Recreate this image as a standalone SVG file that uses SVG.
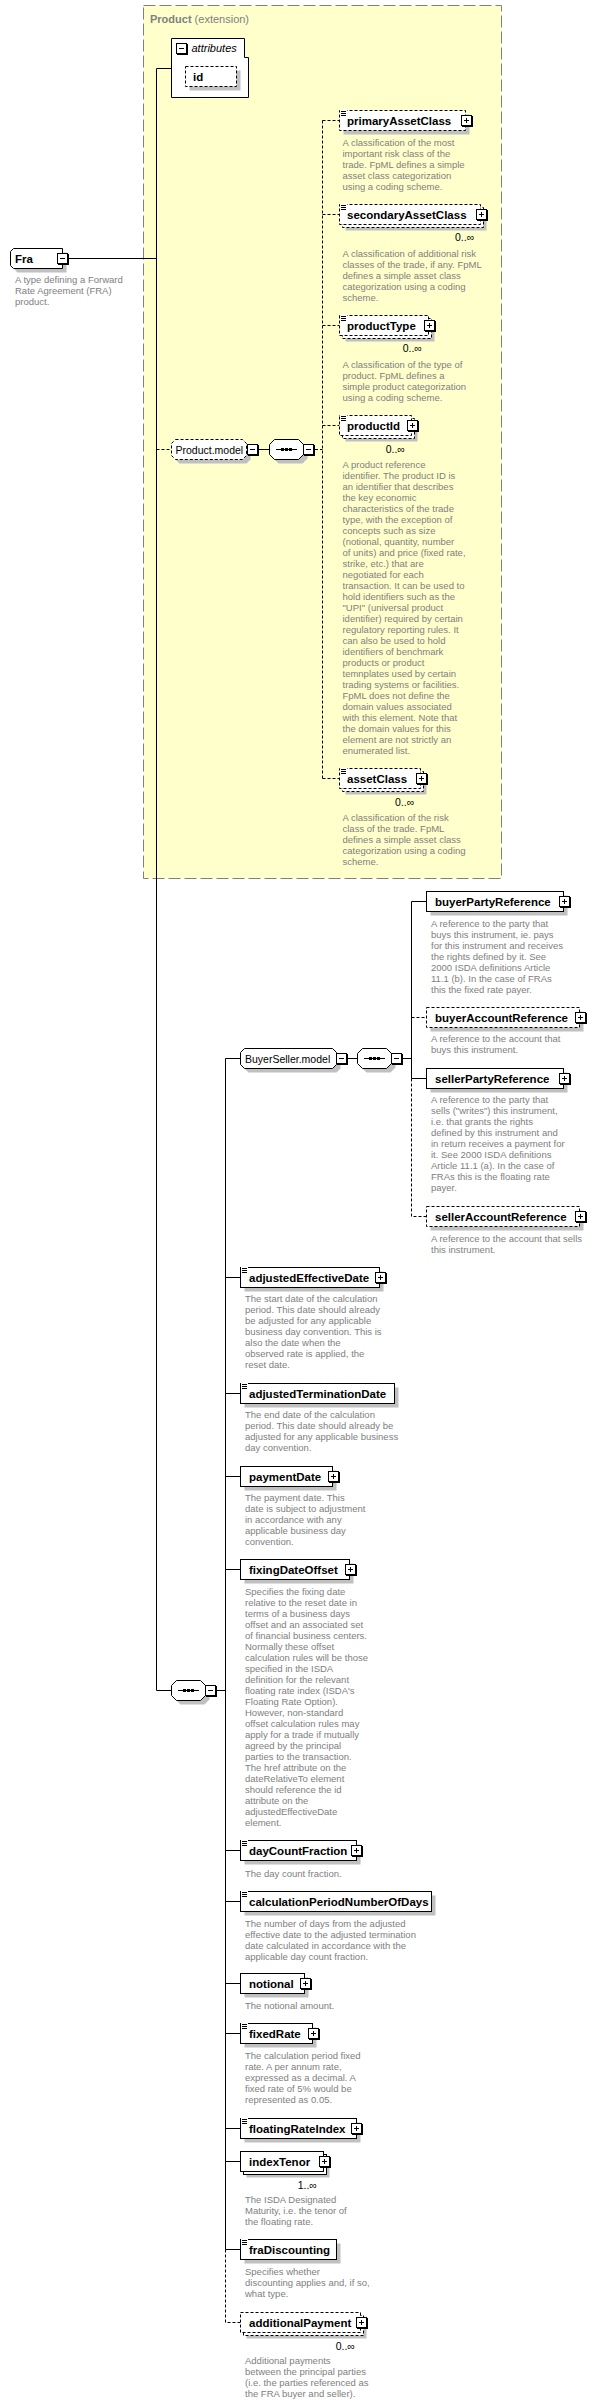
<svg xmlns="http://www.w3.org/2000/svg" xmlns:xlink="http://www.w3.org/1999/xlink" width="609" height="2405" viewBox="0 0 609 2405">
<style>
.el{fill:#fff;stroke:#000;stroke-width:1}
.opt{stroke-dasharray:3,2}
.sh{fill:#c0c0c0;stroke:none}
.nm{font-family:"Liberation Sans",Arial,sans-serif;font-weight:bold;font-size:11.5px;fill:#000}
.gm{font-family:"Liberation Sans",Arial,sans-serif;font-size:10.5px;fill:#000}
.ds{font-family:"Liberation Sans",Arial,sans-serif;font-size:9.5px;fill:#808080}
.oc{font-family:"Liberation Sans",Arial,sans-serif;font-size:10.5px;fill:#000}
.cn{fill:none;stroke:#000;stroke-width:1}
.dc{stroke-dasharray:3,2}
</style>
<defs>
<g id="plus"><rect x="1" y="1" width="11" height="11" fill="#000"/><rect x="0.5" y="0.5" width="10" height="10" fill="#fff" stroke="#000"/><path d="M3,5.5H8M5.5,3V8" stroke="#000" fill="none"/></g>
<g id="minus"><rect x="1" y="1" width="11" height="11" fill="#000"/><rect x="0.5" y="0.5" width="10" height="10" fill="#fff" stroke="#000"/><path d="M3,5.5H8" stroke="#000" fill="none"/></g>
<g id="eq"><rect x="1" y="-0.5" width="7" height="2" fill="#fff"/><path d="M2,1.5H7M2,3.5H7M2,5.5H7" stroke="#000" fill="none"/></g>
<g id="seq"><path d="M5.5,0.5H29.5L34.5,5.5V15.5L29.5,20.5H5.5L0.5,15.5V5.5Z" class="sh" transform="translate(4,4)"/><path d="M5.5,0.5H29.5L34.5,5.5V15.5L29.5,20.5H5.5L0.5,15.5V5.5Z" class="el"/><path d="M7,10.5H28" stroke="#000" fill="none"/><rect x="12" y="9" width="3" height="3" fill="#000"/><rect x="16" y="9" width="3" height="3" fill="#000"/><rect x="20" y="9" width="3" height="3" fill="#000"/></g>
</defs>
<rect x="0" y="0" width="609" height="2405" fill="#fff"/>

<g id="product-extension">
<rect x="143.5" y="5.5" width="358" height="873" fill="#ffffcc" stroke="#808080" stroke-dasharray="12,4"/>
<text x="150" y="22.5" font-family="Liberation Sans,Arial,sans-serif" font-size="11px" fill="#808080"><tspan font-weight="bold">Product</tspan> (extension)</text>
</g>

<g id="connectors">
<path class="cn" d="M68,258.5H156.5M156.5,68.5V1690.5M156.5,68.5H171.5M259,449.5H269.5"/>
<path class="cn dc" d="M156.5,449.5H171.5M315,449.5H322.5M322.5,120.5V778.5M322.5,120.5H339.5M322.5,214.5H339.5M322.5,325.5H339.5M322.5,425.5H339.5M322.5,778.5H339.5"/>
<path class="cn" d="M156.5,1690.5H171.5M217,1690.5H225.5M225.5,1058.5V2249.5M225.5,1058.5H240.5M225.5,1277.5H240.5M225.5,1393.5H240.5M225.5,1476.5H240.5M225.5,1569.5H240.5M225.5,1850.5H240.5M225.5,1901.5H240.5M225.5,1983.5H240.5M225.5,2033.5H240.5M225.5,2128.5H240.5M225.5,2161.5H240.5M225.5,2249.5H240.5"/>
<path class="cn dc" d="M225.5,2249.5V2322.5H240.5"/>
<path class="cn" d="M348,1058.5H357.5M403,1058.5H411.5M411.5,901.5V1078.5M411.5,901.5H426.5M411.5,1078.5H426.5"/>
<path class="cn dc" d="M411.5,1078.5V1216.5H426.5M411.5,1017.5H426.5"/>
</g>

<g id="n-Fra">
<path class="sh" d="M17.5,252.5H66.5V272.5H17.5L14.5,269.5V255.5Z"/>
<path class="el" d="M13.5,248.5H62.5V268.5H13.5L10.5,265.5V251.5Z"/>
<text class="nm" x="15" y="262.5">Fra</text>
<use xlink:href="#minus" x="57" y="253"/>
<text class="ds" x="15" y="283">A type defining a Forward<tspan x="15" dy="11">Rate Agreement (FRA)</tspan><tspan x="15" dy="11">product.</tspan></text>
</g>

<g id="n-attributes">
<path class="el" d="M171.5,38.5H244.5V57.5H248.5V97.5H171.5Z"/>
<use xlink:href="#minus" x="176" y="43"/>
<text x="191.5" y="52" font-family="Liberation Sans,Arial,sans-serif" font-size="11px" font-style="italic">attributes</text>
<rect class="sh" x="189.5" y="70.5" width="51" height="20"/>
<rect class="el opt" x="185.5" y="66.5" width="51" height="20"/>
<text class="nm" x="193" y="80.5">id</text>
</g>

<g id="n-ProductModel">
<path class="sh" d="M179.5,443.5H246.5L250.5,447.5V459.5L246.5,463.5H179.5L175.5,459.5V447.5Z"/>
<path class="el opt" d="M175.5,439.5H242.5L246.5,443.5V455.5L242.5,459.5H175.5L171.5,455.5V443.5Z"/>
<text class="gm" x="175.5" y="453.5">Product.model</text>
<use xlink:href="#minus" x="247" y="444"/>
</g>
<g id="n-ProductSeq">
<use xlink:href="#seq" x="269" y="439"/>
<use xlink:href="#minus" x="303" y="444"/>
</g>

<g id="n-primaryAssetClass">
<rect class="sh" x="343.5" y="114.5" width="126" height="20"/>
<rect class="el opt" x="339.5" y="110.5" width="126" height="20"/>
<use xlink:href="#eq" x="339" y="110"/>
<text class="nm" x="347" y="124.5">primaryAssetClass</text>
<use xlink:href="#plus" x="461" y="115"/>
<text class="ds" x="342.5" y="145.7">A classification of the most<tspan x="342.5" dy="11">important risk class of the</tspan><tspan x="342.5" dy="11">trade. FpML defines a simple</tspan><tspan x="342.5" dy="11">asset class categorization</tspan><tspan x="342.5" dy="11">using a coding scheme.</tspan></text>
</g>

<g id="n-secondaryAssetClass">
<rect class="sh" x="345.5" y="210.5" width="141" height="20"/>
<rect class="el opt" x="342.5" y="207.5" width="141" height="20"/>
<rect class="el opt" x="339.5" y="204.5" width="141" height="20"/>
<use xlink:href="#eq" x="339" y="204"/>
<text class="nm" x="347" y="218.5">secondaryAssetClass</text>
<use xlink:href="#plus" x="476" y="209"/>
<text class="oc" x="455" y="241">0..∞</text>
<text class="ds" x="342.5" y="256.7">A classification of additional risk<tspan x="342.5" dy="11">classes of the trade, if any. FpML</tspan><tspan x="342.5" dy="11">defines a simple asset class</tspan><tspan x="342.5" dy="11">categorization using a coding</tspan><tspan x="342.5" dy="11">scheme.</tspan></text>
</g>

<g id="n-productType">
<rect class="sh" x="345.5" y="321.5" width="89" height="20"/>
<rect class="el opt" x="342.5" y="318.5" width="89" height="20"/>
<rect class="el opt" x="339.5" y="315.5" width="89" height="20"/>
<use xlink:href="#eq" x="339" y="315"/>
<text class="nm" x="347" y="329.5">productType</text>
<use xlink:href="#plus" x="424" y="320"/>
<text class="oc" x="402.7" y="352">0..∞</text>
<text class="ds" x="342.5" y="367.7">A classification of the type of<tspan x="342.5" dy="11">product. FpML defines a</tspan><tspan x="342.5" dy="11">simple product categorization</tspan><tspan x="342.5" dy="11">using a coding scheme.</tspan></text>
</g>

<g id="n-productId">
<rect class="sh" x="345.5" y="421.5" width="72" height="20"/>
<rect class="el opt" x="342.5" y="418.5" width="72" height="20"/>
<rect class="el opt" x="339.5" y="415.5" width="72" height="20"/>
<use xlink:href="#eq" x="339" y="415"/>
<text class="nm" x="347" y="429.5">productId</text>
<use xlink:href="#plus" x="407" y="420"/>
<text class="oc" x="385.7" y="452.5">0..∞</text>
<text class="ds" x="342.5" y="467.5">A product reference<tspan x="342.5" dy="11">identifier. The product ID is</tspan><tspan x="342.5" dy="11">an identifier that describes</tspan><tspan x="342.5" dy="11">the key economic</tspan><tspan x="342.5" dy="11">characteristics of the trade</tspan><tspan x="342.5" dy="11">type, with the exception of</tspan><tspan x="342.5" dy="11">concepts such as size</tspan><tspan x="342.5" dy="11">(notional, quantity, number</tspan><tspan x="342.5" dy="11">of units) and price (fixed rate,</tspan><tspan x="342.5" dy="11">strike, etc.) that are</tspan><tspan x="342.5" dy="11">negotiated for each</tspan><tspan x="342.5" dy="11">transaction. It can be used to</tspan><tspan x="342.5" dy="11">hold identifiers such as the</tspan><tspan x="342.5" dy="11">"UPI" (universal product</tspan><tspan x="342.5" dy="11">identifier) required by certain</tspan><tspan x="342.5" dy="11">regulatory reporting rules. It</tspan><tspan x="342.5" dy="11">can also be used to hold</tspan><tspan x="342.5" dy="11">identifiers of benchmark</tspan><tspan x="342.5" dy="11">products or product</tspan><tspan x="342.5" dy="11">temnplates used by certain</tspan><tspan x="342.5" dy="11">trading systems or facilities.</tspan><tspan x="342.5" dy="11">FpML does not define the</tspan><tspan x="342.5" dy="11">domain values associated</tspan><tspan x="342.5" dy="11">with this element. Note that</tspan><tspan x="342.5" dy="11">the domain values for this</tspan><tspan x="342.5" dy="11">element are not strictly an</tspan><tspan x="342.5" dy="11">enumerated list.</tspan></text>
</g>

<g id="n-assetClass">
<rect class="sh" x="345.5" y="774.5" width="81" height="20"/>
<rect class="el opt" x="342.5" y="771.5" width="81" height="20"/>
<rect class="el opt" x="339.5" y="768.5" width="81" height="20"/>
<use xlink:href="#eq" x="339" y="768"/>
<text class="nm" x="347" y="782.5">assetClass</text>
<use xlink:href="#plus" x="416" y="773"/>
<text class="oc" x="395" y="806">0..∞</text>
<text class="ds" x="342.5" y="820.7">A classification of the risk<tspan x="342.5" dy="11">class of the trade. FpML</tspan><tspan x="342.5" dy="11">defines a simple asset class</tspan><tspan x="342.5" dy="11">categorization using a coding</tspan><tspan x="342.5" dy="11">scheme.</tspan></text>
</g>

<g id="n-MainSeq">
<use xlink:href="#seq" x="171" y="1680"/>
<use xlink:href="#minus" x="205" y="1685"/>
</g>

<g id="n-BuyerSellerModel">
<path class="sh" d="M248.5,1052.5H336.5L340.5,1056.5V1068.5L336.5,1072.5H248.5L244.5,1068.5V1056.5Z"/>
<path class="el" d="M244.5,1048.5H332.5L336.5,1052.5V1064.5L332.5,1068.5H244.5L240.5,1064.5V1052.5Z"/>
<text class="gm" x="245" y="1062.5">BuyerSeller.model</text>
<use xlink:href="#minus" x="336" y="1053"/>
</g>
<g id="n-BuyerSellerSeq">
<use xlink:href="#seq" x="357" y="1048"/>
<use xlink:href="#minus" x="391" y="1053"/>
</g>

<g id="n-buyerPartyReference">
<rect class="sh" x="430.5" y="895.5" width="137" height="20"/>
<rect class="el" x="426.5" y="891.5" width="137" height="20"/>
<text class="nm" x="435" y="905.5">buyerPartyReference</text>
<use xlink:href="#plus" x="559" y="896"/>
<text class="ds" x="431" y="926.7">A reference to the party that<tspan x="431" dy="11">buys this instrument, ie. pays</tspan><tspan x="431" dy="11">for this instrument and receives</tspan><tspan x="431" dy="11">the rights defined by it. See</tspan><tspan x="431" dy="11">2000 ISDA definitions Article</tspan><tspan x="431" dy="11">11.1 (b). In the case of FRAs</tspan><tspan x="431" dy="11">this the fixed rate payer.</tspan></text>
</g>

<g id="n-buyerAccountReference">
<rect class="sh" x="430.5" y="1011.5" width="153" height="20"/>
<rect class="el opt" x="426.5" y="1007.5" width="153" height="20"/>
<text class="nm" x="435" y="1021.5">buyerAccountReference</text>
<use xlink:href="#plus" x="575" y="1012"/>
<text class="ds" x="431" y="1042.3">A reference to the account that<tspan x="431" dy="11">buys this instrument.</tspan></text>
</g>

<g id="n-sellerPartyReference">
<rect class="sh" x="430.5" y="1072.5" width="137" height="20"/>
<rect class="el" x="426.5" y="1068.5" width="137" height="20"/>
<text class="nm" x="435" y="1082.5">sellerPartyReference</text>
<use xlink:href="#plus" x="559" y="1073"/>
<text class="ds" x="431" y="1103.3">A reference to the party that<tspan x="431" dy="11">sells ("writes") this instrument,</tspan><tspan x="431" dy="11">i.e. that grants the rights</tspan><tspan x="431" dy="11">defined by this instrument and</tspan><tspan x="431" dy="11">in return receives a payment for</tspan><tspan x="431" dy="11">it. See 2000 ISDA definitions</tspan><tspan x="431" dy="11">Article 11.1 (a). In the case of</tspan><tspan x="431" dy="11">FRAs this is the floating rate</tspan><tspan x="431" dy="11">payer.</tspan></text>
</g>

<g id="n-sellerAccountReference">
<rect class="sh" x="430.5" y="1210.5" width="153" height="20"/>
<rect class="el opt" x="426.5" y="1206.5" width="153" height="20"/>
<text class="nm" x="435" y="1220.5">sellerAccountReference</text>
<use xlink:href="#plus" x="575" y="1211"/>
<text class="ds" x="431" y="1241.7">A reference to the account that sells<tspan x="431" dy="11">this instrument.</tspan></text>
</g>

<g id="n-adjustedEffectiveDate">
<rect class="sh" x="244.5" y="1271.5" width="139" height="20"/>
<rect class="el" x="240.5" y="1267.5" width="139" height="20"/>
<use xlink:href="#eq" x="240" y="1267"/>
<text class="nm" x="249" y="1281.5">adjustedEffectiveDate</text>
<use xlink:href="#plus" x="375" y="1272"/>
<text class="ds" x="245" y="1302.3">The start date of the calculation<tspan x="245" dy="11">period. This date should already</tspan><tspan x="245" dy="11">be adjusted for any applicable</tspan><tspan x="245" dy="11">business day convention. This is</tspan><tspan x="245" dy="11">also the date when the</tspan><tspan x="245" dy="11">observed rate is applied, the</tspan><tspan x="245" dy="11">reset date.</tspan></text>
</g>

<g id="n-adjustedTerminationDate">
<rect class="sh" x="244.5" y="1387.5" width="154" height="20"/>
<rect class="el" x="240.5" y="1383.5" width="154" height="20"/>
<use xlink:href="#eq" x="240" y="1383"/>
<text class="nm" x="249" y="1397.5">adjustedTerminationDate</text>
<text class="ds" x="245" y="1418.3">The end date of the calculation<tspan x="245" dy="11">period. This date should already be</tspan><tspan x="245" dy="11">adjusted for any applicable business</tspan><tspan x="245" dy="11">day convention.</tspan></text>
</g>

<g id="n-paymentDate">
<rect class="sh" x="244.5" y="1470.5" width="92" height="20"/>
<rect class="el" x="240.5" y="1466.5" width="92" height="20"/>
<text class="nm" x="249" y="1480.5">paymentDate</text>
<use xlink:href="#plus" x="328" y="1471"/>
<text class="ds" x="245" y="1501.3">The payment date. This<tspan x="245" dy="11">date is subject to adjustment</tspan><tspan x="245" dy="11">in accordance with any</tspan><tspan x="245" dy="11">applicable business day</tspan><tspan x="245" dy="11">convention.</tspan></text>
</g>

<g id="n-fixingDateOffset">
<rect class="sh" x="244.5" y="1563.5" width="109" height="20"/>
<rect class="el" x="240.5" y="1559.5" width="109" height="20"/>
<text class="nm" x="249" y="1573.5">fixingDateOffset</text>
<use xlink:href="#plus" x="345" y="1564"/>
<text class="ds" x="245" y="1595">Specifies the fixing date<tspan x="245" dy="11">relative to the reset date in</tspan><tspan x="245" dy="11">terms of a business days</tspan><tspan x="245" dy="11">offset and an associated set</tspan><tspan x="245" dy="11">of financial business centers.</tspan><tspan x="245" dy="11">Normally these offset</tspan><tspan x="245" dy="11">calculation rules will be those</tspan><tspan x="245" dy="11">specified in the ISDA</tspan><tspan x="245" dy="11">definition for the relevant</tspan><tspan x="245" dy="11">floating rate index (ISDA's</tspan><tspan x="245" dy="11">Floating Rate Option).</tspan><tspan x="245" dy="11">However, non-standard</tspan><tspan x="245" dy="11">offset calculation rules may</tspan><tspan x="245" dy="11">apply for a trade if mutually</tspan><tspan x="245" dy="11">agreed by the principal</tspan><tspan x="245" dy="11">parties to the transaction.</tspan><tspan x="245" dy="11">The href attribute on the</tspan><tspan x="245" dy="11">dateRelativeTo element</tspan><tspan x="245" dy="11">should reference the id</tspan><tspan x="245" dy="11">attribute on the</tspan><tspan x="245" dy="11">adjustedEffectiveDate</tspan><tspan x="245" dy="11">element.</tspan></text>
</g>

<g id="n-dayCountFraction">
<rect class="sh" x="244.5" y="1844.5" width="116" height="20"/>
<rect class="el" x="240.5" y="1840.5" width="116" height="20"/>
<use xlink:href="#eq" x="240" y="1840"/>
<text class="nm" x="249" y="1854.5">dayCountFraction</text>
<use xlink:href="#plus" x="351" y="1845"/>
<text class="ds" x="245" y="1876.7">The day count fraction.</text>
</g>

<g id="n-calculationPeriodNumberOfDays">
<rect class="sh" x="244.5" y="1895.5" width="191" height="20"/>
<rect class="el" x="240.5" y="1891.5" width="191" height="20"/>
<use xlink:href="#eq" x="240" y="1891"/>
<text class="nm" x="249" y="1905.5">calculationPeriodNumberOfDays</text>
<text class="ds" x="245" y="1926.7">The number of days from the adjusted<tspan x="245" dy="11">effective date to the adjusted termination</tspan><tspan x="245" dy="11">date calculated in accordance with the</tspan><tspan x="245" dy="11">applicable day count fraction.</tspan></text>
</g>

<g id="n-notional">
<rect class="sh" x="244.5" y="1977.5" width="64" height="20"/>
<rect class="el" x="240.5" y="1973.5" width="64" height="20"/>
<text class="nm" x="249" y="1987.5">notional</text>
<use xlink:href="#plus" x="300" y="1978"/>
<text class="ds" x="245" y="2009.3">The notional amount.</text>
</g>

<g id="n-fixedRate">
<rect class="sh" x="244.5" y="2027.5" width="72" height="20"/>
<rect class="el" x="240.5" y="2023.5" width="72" height="20"/>
<use xlink:href="#eq" x="240" y="2023"/>
<text class="nm" x="249" y="2037.5">fixedRate</text>
<use xlink:href="#plus" x="308" y="2028"/>
<text class="ds" x="245" y="2059.3">The calculation period fixed<tspan x="245" dy="11">rate. A per annum rate,</tspan><tspan x="245" dy="11">expressed as a decimal. A</tspan><tspan x="245" dy="11">fixed rate of 5% would be</tspan><tspan x="245" dy="11">represented as 0.05.</tspan></text>
</g>

<g id="n-floatingRateIndex">
<rect class="sh" x="244.5" y="2122.5" width="116" height="20"/>
<rect class="el" x="240.5" y="2118.5" width="116" height="20"/>
<use xlink:href="#eq" x="240" y="2118"/>
<text class="nm" x="249" y="2132.5">floatingRateIndex</text>
<use xlink:href="#plus" x="351" y="2123"/>
</g>

<g id="n-indexTenor">
<rect class="sh" x="246.5" y="2157.5" width="83" height="20"/>
<rect class="el" x="243.5" y="2154.5" width="83" height="20"/>
<rect class="el" x="240.5" y="2151.5" width="83" height="20"/>
<text class="nm" x="249" y="2165.5">indexTenor</text>
<use xlink:href="#plus" x="319" y="2156"/>
<text class="oc" x="297.7" y="2188.5">1..∞</text>
<text class="ds" x="245" y="2203.3">The ISDA Designated<tspan x="245" dy="11">Maturity, i.e. the tenor of</tspan><tspan x="245" dy="11">the floating rate.</tspan></text>
</g>

<g id="n-fraDiscounting">
<rect class="sh" x="244.5" y="2243.5" width="96" height="20"/>
<rect class="el" x="240.5" y="2239.5" width="96" height="20"/>
<use xlink:href="#eq" x="240" y="2239"/>
<text class="nm" x="249" y="2253.5">fraDiscounting</text>
<text class="ds" x="245" y="2275.3">Specifies whether<tspan x="245" dy="11">discounting applies and, if so,</tspan><tspan x="245" dy="11">what type.</tspan></text>
</g>

<g id="n-additionalPayment">
<rect class="sh" x="246.5" y="2318.5" width="120" height="20"/>
<rect class="el opt" x="243.5" y="2315.5" width="120" height="20"/>
<rect class="el opt" x="240.5" y="2312.5" width="120" height="20"/>
<text class="nm" x="249" y="2326.5">additionalPayment</text>
<use xlink:href="#plus" x="356" y="2317"/>
<text class="oc" x="335.7" y="2349.5">0..∞</text>
<text class="ds" x="245" y="2364.3">Additional payments<tspan x="245" dy="11">between the principal parties</tspan><tspan x="245" dy="11">(i.e. the parties referenced as</tspan><tspan x="245" dy="11">the FRA buyer and seller).</tspan></text>
</g>
</svg>
